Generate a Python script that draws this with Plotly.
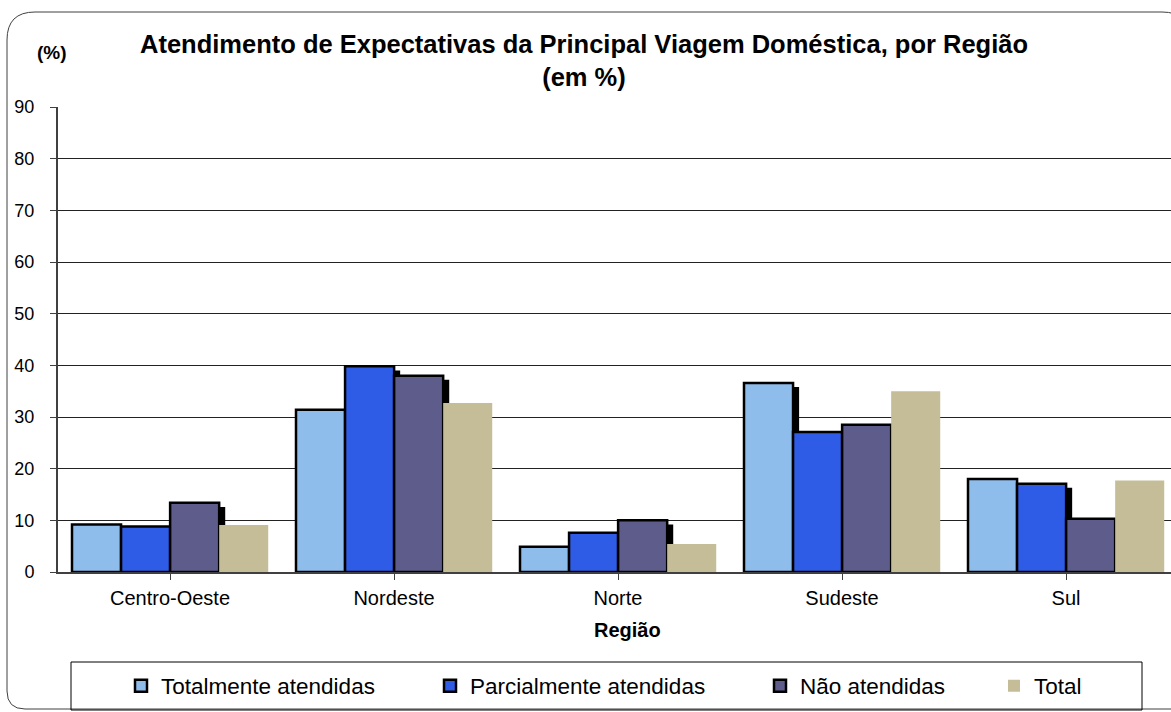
import plotly.graph_objects as go

# ---- data ----
regions = ["Centro-Oeste", "Nordeste", "Norte", "Sudeste", "Sul"]
series_names = ["Totalmente atendidas", "Parcialmente atendidas", "Não atendidas", "Total"]
totalmente = [9.2, 31.4, 4.9, 36.6, 18.0]
parcialmente = [8.8, 39.8, 7.6, 27.1, 17.1]
nao_atendidas = [13.4, 38.0, 10.0, 28.5, 10.3]
total = [9.1, 32.7, 5.4, 35.0, 17.7]
y_ticks = [0, 10, 20, 30, 40, 50, 60, 70, 80, 90]

series_values = [totalmente, parcialmente, nao_atendidas, total]
colors = ["#8EBDEC", "#2F5CE6", "#5E5C8A", "#C4BD97"]
outlined = [True, True, True, False]
shadowed = [True, True, True, False]

FONT = "Arial, Liberation Sans, sans-serif"
W, H = 1171, 712
L, R, T, B = 58, 1171, 107, 572

def px(x):
    return (x - L) / (R - L)

def py(y):
    return (B - y) / (B - T)

bar_w = 0.219
first_off = -0.4375
shadow_dx = 0.027
shadow_dy = 0.8

fig = go.Figure()
for i, (name, vals) in enumerate(zip(series_names, series_values)):
    off = first_off + i * bar_w
    if shadowed[i]:
        fig.add_trace(go.Bar(
            x=list(range(len(regions))), y=vals, base=-shadow_dy,
            width=bar_w, offset=off + shadow_dx,
            marker=dict(color="black", line=dict(width=0)),
            showlegend=False, hoverinfo="skip",
        ))
    fig.add_trace(go.Bar(
        x=list(range(len(regions))), y=vals, name=name,
        width=bar_w, offset=off,
        marker=dict(color=colors[i],
                    line=dict(color="black", width=2.5 if outlined[i] else 0)),
        legend="legend" if i == 0 else f"legend{i+1}",
    ))

text_starts = [161, 470, 800, 1034]
legend_cfg = {}
for i, xs in enumerate(text_starts):
    key = "legend" if i == 0 else f"legend{i+1}"
    legend_cfg[key] = dict(
        x=px(xs - 40), xanchor="left", y=py(686), yanchor="middle",
        xref="paper", yref="paper", orientation="h",
        bgcolor="rgba(0,0,0,0)", borderwidth=0,
        font=dict(family=FONT, size=22.5, color="black"),
        itemwidth=30,
    )

def rounded_path(x0, y0, x1, y1, r_tl, r_tr, r_bl):
    return (
        f"M {px(x0)},{py(y0 + r_tl)} Q {px(x0)},{py(y0)} {px(x0 + r_tl)},{py(y0)} "
        f"L {px(x1 - r_tr)},{py(y0)} Q {px(x1)},{py(y0)} {px(x1)},{py(y0 + r_tr)} "
        f"L {px(x1)},{py(y1)} L {px(x0 + r_bl)},{py(y1)} "
        f"Q {px(x0)},{py(y1)} {px(x0)},{py(y1 - r_bl)} Z"
    )

shapes = [
    dict(type="path", xref="paper", yref="paper",
         path=rounded_path(7, 12, 1190, 709, 28, 28, 18),
         line=dict(color="#404040", width=1), layer="below"),
    dict(type="rect", xref="paper", yref="paper",
         x0=px(71), x1=px(1142), y0=py(662), y1=py(710),
         line=dict(color="black", width=1), layer="below"),
]

annotations = [
    dict(text="<b>(%)</b>", xref="paper", yref="paper", x=px(52), y=py(52),
         xanchor="center", yanchor="middle", showarrow=False,
         font=dict(family=FONT, size=19, color="black")),
    dict(text="<b>Região</b>", xref="paper", yref="paper", x=px(627), y=py(630),
         xanchor="center", yanchor="middle", showarrow=False,
         font=dict(family=FONT, size=20, color="black")),
]

fig.update_layout(
    width=W, height=H,
    margin=dict(l=L, r=0, t=T, b=H - B, pad=0),
    paper_bgcolor="white", plot_bgcolor="white",
    barmode="overlay",
    font=dict(family=FONT, color="black"),
    title=dict(
        text="<b>Atendimento de Expectativas da Principal Viagem Doméstica, por Região<br>(em %)</b>",
        x=584 / W, xanchor="center", y=1 - 53 / H, yanchor="top",
        xref="container", yref="container",
        font=dict(family=FONT, size=25.5, color="black"),
    ),
    xaxis=dict(
        range=[-0.5, (R - L) / 224 - 0.5],
        tickmode="array", tickvals=list(range(len(regions))), ticktext=regions,
        tickson="boundaries", ticks="outside", ticklen=6, tickcolor="#404040",
        showline=True, linecolor="#404040", linewidth=1.5,
        showgrid=False, zeroline=False,
        tickfont=dict(family=FONT, size=20, color="black"),
        ticklabelstandoff=1,
    ),
    yaxis=dict(
        range=[0, 90], tickmode="array", tickvals=y_ticks,
        ticks="outside", ticklen=6, tickcolor="#404040",
        showline=True, linecolor="#404040", linewidth=2,
        showgrid=True, gridcolor="#222222", gridwidth=1, zeroline=False,
        tickfont=dict(family=FONT, size=18, color="black"),
        ticklabelstandoff=12,
    ),
    shapes=shapes, annotations=annotations,
    **legend_cfg,
)

fig.write_html(
    "out.html",
    config={"displayModeBar": False},
    post_script="document.body.style.margin='0';document.body.style.overflow='hidden';",
)
